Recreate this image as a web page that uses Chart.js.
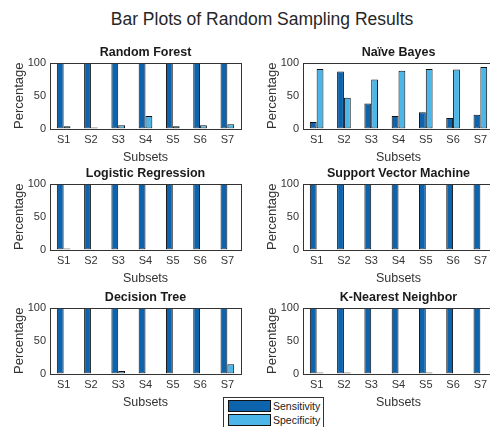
<!DOCTYPE html>
<html>
<head>
<meta charset="utf-8">
<script src="https://cdn.jsdelivr.net/npm/chart.js@4.4.1/dist/chart.umd.min.js"></script>
<style>
  body { margin: 0; width: 490px; height: 427px; overflow: hidden; background: #fff; position: relative; font-family: "Liberation Sans", Arial, sans-serif; }
  canvas { position: absolute; }
  #title { position: absolute; left: 0; width: 524px; top: 9px; text-align: center; font-size: 17.5px; color: #262626; }
  #legend { position: absolute; left: 223px; top: 397px; width: 99px; height: 30px; border: 1px solid #333; border-bottom: none; background: #fff; }
  .item { position: absolute; left: 4px; height: 12px; font-size: 10.5px; color: #222; line-height: 12px; }
  .sw { display: inline-block; width: 41px; height: 10px; border: 1px solid #111; vertical-align: top; margin-right: 2px; }
</style>
</head>
<body>
<div id="title">Bar Plots of Random Sampling Results</div>

<canvas id="c1" width="242" height="120" style="left:0px;top:45px"></canvas>
<canvas id="c2" width="242" height="120" style="left:253px;top:45px"></canvas>
<canvas id="c3" width="242" height="120" style="left:0px;top:166px"></canvas>
<canvas id="c4" width="242" height="120" style="left:253px;top:166px"></canvas>
<canvas id="c5" width="242" height="120" style="left:0px;top:290px"></canvas>
<canvas id="c6" width="242" height="120" style="left:253px;top:290px"></canvas>

<div id="legend">
  <div class="item" style="top:2px"><span class="sw" style="background:#0e63ad"></span>Sensitivity</div>
  <div class="item" style="top:16px"><span class="sw" style="background:#4db6e9"></span>Specificity</div>
</div>

<script>
var subsets = ['S1', 'S2', 'S3', 'S4', 'S5', 'S6', 'S7']
var yTicks = [0, 50, 100]

var rfSens = [100, 100, 100, 100, 100, 100, 100]
var rfSpec = [3.5, 1.5, 5, 19, 3.5, 5, 6.5]

var nbSens = [10, 87, 38, 19, 25, 16, 21]
var nbSpec = [91, 47, 75, 88, 91, 90, 94]

var lrSens = [100, 100, 100, 100, 100, 100, 100]
var lrSpec = [1.5, 0, 0, 0, 0, 0, 0]

var svmSens = [100, 100, 100, 100, 100, 100, 100]
var svmSpec = [0, 0, 0, 0, 0, 0, 0]

var dtSens = [100, 100, 100, 100, 100, 100, 100]
var dtSpec = [0, 0, 4, 0, 0, 0, 14]

var knnSens = [100, 100, 100, 100, 100, 100, 100]
var knnSpec = [1.5, 1.5, 0, 0, 1.5, 0, 0]

var sensColor = '#0e63ad'
var specColor = '#4db6e9'
var font = "'Liberation Sans', Arial, sans-serif"

// box around the axes, like matlab "box on"
var boxPlugin = {
  id: 'box',
  afterDraw: function(chart) {
    var a = chart.chartArea
    var ctx = chart.ctx
    ctx.save()
    ctx.strokeStyle = '#333'
    ctx.lineWidth = 1
    ctx.strokeRect(Math.round(a.left) + 0.5, Math.round(a.top) + 0.5,
      Math.round(a.right - a.left), Math.round(a.bottom - a.top))
    ctx.restore()
  }
}

function drawPanel(id, title, sens, spec) {
  var ctx = document.getElementById(id)
  new Chart(ctx, {
    type: 'bar',
    data: {
      labels: subsets,
      datasets: [{
        label: 'Sensitivity',
        data: sens,
        backgroundColor: sensColor,
        borderColor: '#111',
        borderWidth: 1,
        borderSkipped: false
      }, {
        label: 'Specificity',
        data: spec,
        backgroundColor: specColor,
        borderColor: '#111',
        borderWidth: 1,
        borderSkipped: false
      }]
    },
    options: {
      responsive: false,
      animation: false,
      categoryPercentage: 0.5,
      barPercentage: 1,
      layout: { padding: { left: 0, right: 1, top: 0, bottom: 0 } },
      plugins: {
        legend: { display: false },
        tooltip: { enabled: false },
        title: {
          display: true,
          fullSize: false,
          text: title,
          color: '#1a1a1a',
          font: { family: font, size: 12.5, weight: 'bold', lineHeight: 1.2 },
          padding: { top: 0, bottom: 3 }
        }
      },
      scales: {
        x: {
          offset: true,
          grid: { display: false, drawTicks: false },
          border: { display: false },
          ticks: { color: '#333', font: { family: font, size: 11 }, padding: 4.4, maxRotation: 0 },
          title: { display: true, text: 'Subsets', color: '#333', font: { family: font, size: 12.5 }, padding: 0 },
          afterFit: function(scale) { scale.height = 36.5 }
        },
        y: {
          min: 0,
          max: 100,
          grid: { display: false, drawTicks: false },
          border: { display: false },
          afterBuildTicks: function(scale) { scale.ticks = yTicks.map(function(v) { return { value: v } }) },
          ticks: { color: '#333', font: { family: font, size: 11 }, padding: 4 },
          title: { display: true, text: 'Percentage', color: '#333', font: { family: font, size: 13 }, padding: { top: 12, bottom: 0 } },
          afterFit: function(scale) { scale.width = 50 }
        }
      }
    },
    plugins: [boxPlugin]
  })
}

drawPanel('c1', 'Random Forest', rfSens, rfSpec)
drawPanel('c2', 'Naïve Bayes', nbSens, nbSpec)
drawPanel('c3', 'Logistic Regression', lrSens, lrSpec)
drawPanel('c4', 'Support Vector Machine', svmSens, svmSpec)
drawPanel('c5', 'Decision Tree', dtSens, dtSpec)
drawPanel('c6', 'K-Nearest Neighbor', knnSens, knnSpec)
</script>
</body>
</html>
